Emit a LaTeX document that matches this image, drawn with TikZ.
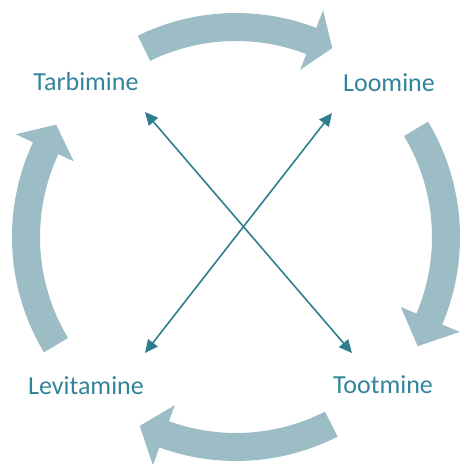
\documentclass[tikz,border=0pt]{standalone}
\usepackage{fontspec}
\setmainfont{Carlito}
\usetikzlibrary{arrows.meta, calc}
\definecolor{tekst}{HTML}{31849B}
\definecolor{nool}{HTML}{9CBDC6}
\definecolor{joon}{HTML}{2E7E8E}
\tikzset{
  silt/.style={
    text=tekst,
    font=\fontsize{26}{30}\selectfont,
    inner sep=0pt
  },
  ringnool/.style={fill=nool},
  link/.style={
    draw=joon,
    line width=1.6pt,
    {Triangle[length=13pt,width=12pt]}-{Triangle[length=13pt,width=12pt]}
  }
}
% kaarnool: saba nurk, otsa aluse nurk, tipu nurk
\newcommand{\kaarnool}[3]{%
  \fill[ringnool] (#1:224) arc[start angle=#1, end angle=#2, radius=224]
    -- (#2:243) -- (#3:212) -- (#2:179) -- (#2:196)
    arc[start angle=#2, end angle=#1, radius=196] -- cycle;
}

\begin{document}
\begin{tikzpicture}[x=1pt, y=-1pt]
  \useasboundingbox (0,0) rectangle (461,464);

  % Ringnooled
  \begin{scope}[shift={(236,237)}, y=1pt]
    \kaarnool{116}{69}{63}
    \kaarnool{31}{-23}{-31}
    \kaarnool{-63}{-110}{-117}
    \kaarnool{211}{155}{148}
  \end{scope}

  \node[silt] (tarb) at (86,82) {Tarbimine};
  \node[silt] (loom) at (389,83) {Loomine};
  \node[silt] (levi) at (86,386) {Levitamine};
  \node[silt] (toot) at (383,385) {Tootmine};

  \coordinate (tarb-ots) at (145,112);
  \coordinate (loom-ots) at (332,113);
  \coordinate (levi-ots) at (145,353);
  \coordinate (toot-ots) at (352,353);

  % Diagonaalid
  \draw[link] (tarb-ots) -- (toot-ots);
  \draw[link] (loom-ots) -- (levi-ots);
\end{tikzpicture}
\end{document}
